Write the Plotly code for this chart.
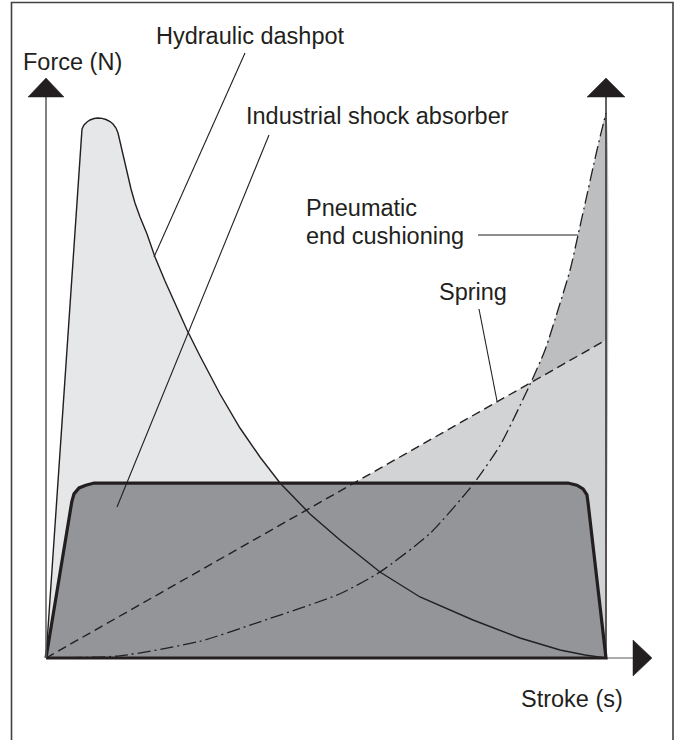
import plotly.graph_objects as go

# ---------------- data (stroke in % of travel, force in % of peak) ----------------
hydraulic_stroke = [0, 6.25, 6.43, 6.79, 7.32, 7.86, 8.57, 9.29, 10.0, 10.71, 11.43, 11.96,
                    12.5, 12.86, 13.21, 13.75, 14.46, 15.18, 15.89, 16.79, 18.04, 19.46,
                    21.25, 23.04, 25.18, 27.5, 31.07, 34.64, 38.21, 41.79, 47.14, 52.5,
                    59.64, 66.79, 76.25, 84.64, 91.79, 96.25, 100]
hydraulic_force = [0, 97.22, 97.96, 98.70, 99.26, 99.63, 99.91, 100.0, 99.94, 99.72, 99.35,
                   98.89, 98.15, 97.22, 95.56, 93.15, 90.0, 86.85, 84.26, 81.67, 78.52, 74.26,
                   69.81, 65.74, 60.74, 55.93, 48.89, 42.59, 37.22, 32.41, 26.67, 21.85,
                   15.93, 11.30, 7.04, 3.70, 1.48, 0.56, 0]

pneumatic_stroke = [0, 13.2, 27.5, 38.2, 52.5, 59.6, 68.6, 76.3, 81.1, 86.4, 89.1, 91.8,
                    93.6, 95.0, 96.4, 97.7, 98.8, 100]
pneumatic_force = [0, 0.4, 3.1, 6.7, 11.9, 15.9, 23.1, 32.2, 39.4, 50.6, 57.0, 65.7,
                   71.9, 78.3, 84.8, 90.9, 95.9, 100.9]

spring_stroke = [0, 100]
spring_force = [0, 58.9]

shock_stroke = [0, 4.6, 5.0, 5.9, 7.1, 8.6, 93.2, 94.8, 95.9, 96.6, 96.8, 100, 0]
shock_force = [0, 28.9, 30.4, 31.5, 32.0, 32.4, 32.4, 32.0, 31.3, 30.2, 28.7, 0, 0]

labels = ["Hydraulic dashpot", "Industrial shock absorber", "Pneumatic", "end cushioning",
          "Spring"]
x_title = "Stroke (s)"
y_title = "Force (N)"

# ---------------- layout helpers (pixel -> axis units) ----------------
W, H = 679, 740
X0, XS = 46, 5.6      # origin pixel, px per stroke unit
Y0, YS = 658, 5.4     # origin pixel, px per force unit


def px2x(p):
    return (p - X0) / XS


def px2y(p):
    return (Y0 - p) / YS


INK = "#231f20"
FONT = "Liberation Sans, Arial, Helvetica, sans-serif"

fig = go.Figure()

# fills
fig.add_trace(go.Scatter(x=hydraulic_stroke, y=hydraulic_force, fill="toself",
                         fillcolor="#e6e7e8", mode="none", hoverinfo="skip"))
fig.add_trace(go.Scatter(x=pneumatic_stroke + [100], y=pneumatic_force + [0], fill="toself",
                         fillcolor="#bcbec0", mode="none", hoverinfo="skip",
                         line=dict(shape="spline", smoothing=0.6)))
fig.add_trace(go.Scatter(x=spring_stroke + [100], y=spring_force + [0], fill="toself",
                         fillcolor="#d1d3d4", mode="none", hoverinfo="skip"))
fig.add_trace(go.Scatter(x=shock_stroke, y=shock_force, fill="toself",
                         fillcolor="#939598", mode="lines",
                         line=dict(color=INK, width=3.2), hoverinfo="skip"))

# curves
fig.add_trace(go.Scatter(x=hydraulic_stroke, y=hydraulic_force, mode="lines",
                         line=dict(color=INK, width=1.4), hoverinfo="skip"))
fig.add_trace(go.Scatter(x=spring_stroke, y=spring_force, mode="lines",
                         line=dict(color=INK, width=1.4, dash="9px,5px"), hoverinfo="skip"))
fig.add_trace(go.Scatter(x=pneumatic_stroke, y=pneumatic_force, mode="lines",
                         line=dict(color=INK, width=1.3, dash="13px,4px,2px,4px",
                                   shape="spline", smoothing=0.6),
                         hoverinfo="skip"))

shapes = []
# axes lines
shapes.append(dict(type="line", x0=px2x(46), x1=px2x(46), y0=px2y(658), y1=px2y(96),
                   line=dict(color="#58595b", width=1.5), layer="above"))
shapes.append(dict(type="line", x0=px2x(606), x1=px2x(606), y0=px2y(658), y1=px2y(96),
                   line=dict(color=INK, width=1.4), layer="above"))
shapes.append(dict(type="line", x0=px2x(46), x1=px2x(634), y0=px2y(658), y1=px2y(658),
                   line=dict(color="#58595b", width=1.2), layer="below"))


def tri(pts):
    d = "M " + " L ".join(f"{px2x(a)},{px2y(b)}" for a, b in pts) + " Z"
    return dict(type="path", path=d, fillcolor=INK, line=dict(color=INK, width=0.5),
                layer="above")


shapes.append(tri([(46, 78), (28, 97), (64, 97)]))
shapes.append(tri([(606, 78), (587, 97), (625, 97)]))
shapes.append(tri([(652, 658), (633, 640), (633, 676)]))

# leader lines
for (a, b, c, d) in [(245, 53, 154, 257), (269, 135, 117, 507), (478, 235, 578, 235),
                     (479, 309, 497, 401)]:
    shapes.append(dict(type="line", x0=px2x(a), y0=px2y(b), x1=px2x(c), y1=px2y(d),
                       line=dict(color=INK, width=1.1), layer="above"))

# frame
shapes.append(dict(type="rect", xref="paper", yref="paper", x0=11.5 / W, x1=673 / W,
                   y0=-0.01, y1=1 - 2.5 / H, line=dict(color="#414042", width=1.6)))

annots = []


def txt(s, x, y, anchor="left"):
    annots.append(dict(text=s, x=px2x(x), y=px2y(y), xref="x", yref="y", showarrow=False,
                       xanchor=anchor, yanchor="middle",
                       font=dict(family=FONT, size=23.5, color=INK)))


txt(y_title, 21, 62)
txt(labels[0], 154, 36)
txt(labels[1], 244, 116)
txt(labels[2], 304, 208)
txt(labels[3], 304, 236)
txt(labels[4], 437, 292)
txt(x_title, 519, 699)

fig.update_layout(
    width=W, height=H, margin=dict(l=0, r=0, t=0, b=0),
    paper_bgcolor="white", plot_bgcolor="white", showlegend=False,
    xaxis=dict(visible=False, range=[px2x(0), px2x(W)], fixedrange=True),
    yaxis=dict(visible=False, range=[px2y(H), px2y(0)], fixedrange=True),
    shapes=shapes, annotations=annots,
)

fig.write_html("out.html", config={"displayModeBar": False},
               post_script="document.body.style.margin='0px';"
                           "document.body.style.overflow='hidden';")
